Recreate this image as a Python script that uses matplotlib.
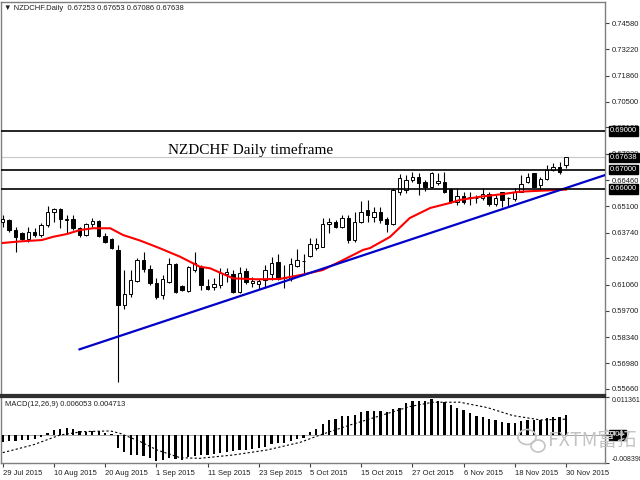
import matplotlib
matplotlib.use("Agg")
import matplotlib.pyplot as plt
import matplotlib.transforms as mtransforms
from matplotlib.patches import Rectangle, Ellipse
import pandas as pd

# ---------------- data ----------------
start_date = "2015-07-29"
end_date = "2015-11-30"

opens = [
    .6429, .6440, .6388, .6372, .6341, .6378, .6362, .6414, .6481, .6497,
    .6440, .6445, .6398, .6362, .6419, .6434, .6357, .6341, .6285, .6000,
    .6057, .6124, .6233, .6186, .6114, .6052, .6119, .6212, .6099, .6073,
    .6181, .6197, .6099, .6093, .6104, .6161, .6161, .6068, .6176, .6114,
    .6109, .6130, .6161, .6223, .6140, .6135, .6202, .6228, .6254, .6295,
    .6300, .6419, .6429, .6403, .6450, .6336, .6429, .6491, .6455, .6481,
    .6445, .6419, .6584, .6595, .6647, .6662, .6636, .6610, .6631, .6636,
    .6600, .6533, .6564, .6559, .6553, .6553, .6574, .6522, .6584, .6553,
    .6548, .6584, .6636, .6683, .6621, .6652, .6698, .6714, .67253]
highs = [
    .6466, .6445, .6403, .6378, .6403, .6398, .6424, .6512, .6502, .6502,
    .6466, .6466, .6403, .6424, .6450, .6440, .6372, .6347, .6310, .6181,
    .6181, .6243, .6274, .6207, .6140, .6155, .6243, .6217, .6104, .6202,
    .6274, .6207, .6135, .6140, .6192, .6192, .6181, .6197, .6192, .6145,
    .6135, .6207, .6248, .6264, .6207, .6243, .6290, .6264, .6347, .6347,
    .6450, .6450, .6440, .6466, .6466, .6481, .6538, .6543, .6507, .6507,
    .6455, .6605, .6677, .6672, .6688, .6683, .6647, .6688, .6683, .6688,
    .6605, .6605, .6584, .6584, .6569, .6605, .6584, .6569, .6584, .6559,
    .6605, .6672, .6683, .6683, .6662, .6724, .6734, .6740, .67653]
lows = [
    .6403, .6378, .6274, .6336, .6326, .6352, .6352, .6403, .6429, .6398,
    .6372, .6388, .6352, .6357, .6403, .6352, .6321, .6290, .5602, .5980,
    .6042, .6119, .6171, .6104, .6031, .6031, .6114, .6062, .6073, .6068,
    .6171, .6078, .6078, .6078, .6088, .6119, .6062, .6062, .6109, .6093,
    .6083, .6088, .6130, .6130, .6088, .6124, .6197, .6166, .6248, .6285,
    .6300, .6372, .6398, .6398, .6321, .6326, .6424, .6429, .6429, .6424,
    .6378, .6414, .6569, .6579, .6636, .6569, .6590, .6605, .6621, .6579,
    .6528, .6517, .6522, .6517, .6528, .6543, .6512, .6512, .6507, .6512,
    .6538, .6584, .6631, .6605, .6595, .6647, .6693, .6677, .67086]
closes = [
    .6445, .6388, .6352, .6341, .6378, .6362, .6414, .6481, .6497, .6445,
    .6445, .6398, .6362, .6419, .6434, .6357, .6326, .6295, .6000, .6057,
    .6130, .6233, .6186, .6114, .6042, .6135, .6212, .6068, .6078, .6197,
    .6217, .6104, .6083, .6109, .6166, .6171, .6068, .6166, .6119, .6124,
    .6124, .6181, .6217, .6135, .6145, .6212, .6233, .6230, .6316, .6316,
    .6419, .6429, .6403, .6450, .6336, .6429, .6481, .6466, .6481, .6440,
    .6419, .6595, .6657, .6647, .6662, .6631, .6610, .6683, .6641, .6584,
    .6533, .6564, .6533, .6561, .6555, .6574, .6522, .6553, .6543, .6555,
    .6584, .6626, .6662, .6610, .6652, .6698, .6714, .6688, .67638]

# moving average (red): bar position, value
ma_idx = [0, 2.7, 6.1, 7.9, 10, 12.1, 14.1, 16.8, 18.8, 21.5, 24.6, 27.7, 30.8,
          32.4, 36, 39.7, 43.3, 46.5, 50, 53.2, 56.3, 57.4, 60.5, 63.6, 66.8,
          69.9, 71.4, 74.6, 77.7, 80.8, 84, 88]
ma_val = [.6321, .6329, .6336, .6353, .6367, .6388, .6397, .6397, .6362, .6333,
          .6293, .6250, .6198, .6190, .6138, .6133, .6135, .6155, .6181, .6233,
          .6285, .6295, .6352, .6450, .6502, .6528, .6543, .6560, .6572, .6586,
          .6591, .6597]

# blue trend line anchors (bar position, price)
tl_idx = [12, 88]
tl_val = [0.5771, 0.6605]

# horizontal levels
levels = [0.6900, 0.6700, 0.6600]
bid_price = 0.67638

# right axis tick labels
price_ticks = [0.74580, 0.73220, 0.71860, 0.70500, 0.69180, 0.67820, 0.66460,
               0.65100, 0.63740, 0.62420, 0.61060, 0.59700, 0.58340, 0.56980,
               0.55660]

# MACD histogram (main) and signal line
macd_main = [
    -0.0020, -0.0018, -0.0017, -0.0015, -0.0015, -0.0012, -0.0007, 0.0007, 0.0015, 0.0017,
    0.0020, 0.0018, 0.0012, 0.0010, 0.0012, 0.0012, 0.0005, 0.0002, -0.0038, -0.0050,
    -0.0060, -0.0060, -0.0063, -0.0068, -0.0078, -0.0075, -0.0068, -0.0073, -0.0075, -0.0065,
    -0.0062, -0.0060, -0.0060, -0.0058, -0.0055, -0.0050, -0.0048, -0.0045, -0.0045, -0.0042,
    -0.0040, -0.0035, -0.0028, -0.0025, -0.0025, -0.0018, -0.0013, -0.0008, 0.0010, 0.0017,
    0.0033, 0.0045, 0.0048, 0.0058, 0.0058, 0.0060, 0.0068, 0.0072, 0.0073, 0.0073,
    0.0070, 0.0078, 0.0082, 0.0095, 0.0103, 0.0103, 0.0103, 0.0107, 0.0103, 0.0098,
    0.0090, 0.0082, 0.0075, 0.0067, 0.0058, 0.0055, 0.0048, 0.0045, 0.0040, 0.0037,
    0.0037, 0.0042, 0.0045, 0.0045, 0.0045, 0.0050, 0.0053, 0.0055, 0.006053]
sig_idx = [0, 4.7, 9, 12.5, 16.8, 18.3, 21.5, 24.1, 27.7, 30.8, 36, 41.3, 46.5,
           49.6, 54.3, 59.4, 63.6, 67.2, 71.4, 75.7, 79.7, 84, 88]
sig_val = [-0.0053, -0.0030, 0.0, 0.0010, 0.0012, 0.0005, -0.0020, -0.0045,
           -0.0068, -0.0070, -0.0060, -0.0045, -0.0022, 0.0, 0.0030, 0.0060,
           0.0085, 0.0098, 0.0098, 0.0082, 0.0058, 0.0045, 0.004713]
macd_max = 0.011361
macd_min = -0.008398

header = "\u25BC NZDCHF.Daily  0.67253 0.67653 0.67086 0.67638"
macd_label = "MACD(12,26,9) 0.006053 0.004713"
title_text = "NZDCHF Daily timeframe"
label_every = 8

# ---------------- figure ----------------
SMALL = dict(family=["Liberation Sans", "DejaVu Sans"], size=5.5)
W, H = 640, 480
fig = plt.figure(figsize=(6.4, 4.8), dpi=100)
fig.patch.set_facecolor("white")

def rect(x0, y0, x1, y1):
    return [x0 / W, 1 - y1 / H, (x1 - x0) / W, (y1 - y0) / H]

ax = fig.add_axes(rect(1, 2, 605, 395))
ax2 = fig.add_axes(rect(1, 397, 605, 463))

dates = pd.bdate_range(start_date, end_date)
n = len(closes)
xs = list(range(n))

for a in (ax, ax2):
    a.set_xlim(-0.27, 94.1)
    for s in a.spines.values():
        s.set_color("#7f7f7f")
        s.set_linewidth(1.0)
ax.spines["bottom"].set_color("#303030")
ax.spines["bottom"].set_linewidth(1.6)
ax2.spines["top"].set_color("#303030")
ax2.spines["top"].set_linewidth(1.6)

ax.set_ylim(0.55349, 0.75668)

# candles
for i in xs:
    o, h, l, c = opens[i], highs[i], lows[i], closes[i]
    ax.vlines(i, l, h, color="black", lw=0.8, zorder=2)
    bottom = min(o, c)
    height = max(abs(c - o), 0.00004)
    ax.add_patch(Rectangle((i - 0.27, bottom), 0.54, height,
                           facecolor="white" if c >= o else "black",
                           edgecolor="black", lw=0.7, zorder=3))

# MA line
ax.plot(ma_idx, ma_val, color="#ff0000", lw=1.5, zorder=4)

# trend line (ray to the right edge)
slope = (tl_val[1] - tl_val[0]) / (tl_idx[1] - tl_idx[0])
x_end = 94.1
ax.plot([tl_idx[0], x_end], [tl_val[0], tl_val[0] + slope * (x_end - tl_idx[0])],
        color="#0000c8", lw=1.6, zorder=4)

# horizontal levels
for lv in levels:
    ax.axhline(lv, color="black", lw=1.2, zorder=4)
ax.axhline(bid_price, color="#c8c8c8", lw=0.8, zorder=1)

# right axis
ax.yaxis.tick_right()
ax.set_yticks(price_ticks)
ax.set_yticklabels([f"{v:.5f}" for v in price_ticks], fontfamily=SMALL["family"])
ax.tick_params(axis="y", labelsize=SMALL["size"], length=3, pad=2, color="#404040",
               labelcolor="#202020")
ax.set_xticks([])

trans = mtransforms.blended_transform_factory(ax.transAxes, ax.transData)
for lv in levels + [bid_price]:
    ax.text(1.0085, lv, f"{lv:.5f}", transform=trans, ha="left", va="center",
            fontfamily=SMALL["family"], fontsize=SMALL["size"], color="white",
            zorder=10, clip_on=False,
            bbox=dict(facecolor="black", edgecolor="black", pad=0.8))

# title text
fig.text(251 / W, 1 - 150 / H, title_text, family="Liberation Serif",
         fontsize=11, ha="center", va="center", color="black")

# header
fig.text(4 / W, 1 - 9 / H, header, fontfamily=SMALL["family"], fontsize=SMALL["size"],
         va="center", color="#202020")

# MACD panel
ax2.set_ylim(macd_min, macd_max)
ax2.bar(xs, macd_main, width=0.36, color="black", zorder=3)
ax2.plot(sig_idx, sig_val, color="black", lw=0.8, ls=(0, (2, 2)), zorder=4)
ax2.axhline(0, color="#999999", lw=0.6, zorder=1)
ax2.yaxis.tick_right()
ax2.set_yticks([macd_max, 0, macd_min])
ax2.set_yticklabels([f"{macd_max:.6f}", "", f"{macd_min:.6f}"], fontfamily=SMALL["family"])
ax2.tick_params(axis="y", labelsize=5.0, length=3, pad=1.5, color="#404040",
                labelcolor="#202020")
lbls = ax2.get_yticklabels()
lbls[0].set_va("top")
lbls[2].set_va("bottom")
trans2 = mtransforms.blended_transform_factory(ax2.transAxes, ax2.transData)
ax2.text(1.0085, 0, "0.00", transform=trans2, ha="left", va="center",
         fontfamily=SMALL["family"], fontsize=SMALL["size"],
         color="white", clip_on=False, zorder=10,
         bbox=dict(facecolor="black", edgecolor="black", pad=0.8))
fig.text(5 / W, 1 - 405 / H, macd_label, fontfamily=SMALL["family"], fontsize=SMALL["size"],
         va="center", color="#202020")

# date labels
tick_pos = list(range(0, n, label_every))
tick_lab = [f"{dates[p].day} {dates[p]:%b %Y}" for p in tick_pos]
ax2.set_xticks(tick_pos)
ax2.set_xticklabels(tick_lab, ha="left", fontfamily=SMALL["family"], fontsize=SMALL["size"],
                    color="#202020")
ax2.tick_params(axis="x", length=3, pad=2, color="#404040")

# watermark
fig.text(548 / W, 1 - 441 / H, "FXTM富拓", family=["Noto Sans CJK SC", "DejaVu Sans"],
         fontsize=14, color="#c4c4c4", va="center", ha="left", fontweight="light")
fig.patches.append(Ellipse((527 / W, 1 - 437 / H), 18 / W, 15 / H, transform=fig.transFigure,
                           fill=False, edgecolor="#c4c4c4", lw=1.2))
fig.patches.append(Ellipse((538 / W, 1 - 446 / H), 14 / W, 12 / H, transform=fig.transFigure,
                           fill=False, edgecolor="#c4c4c4", lw=1.2))

fig.savefig("out.png", dpi=100, facecolor="white")
